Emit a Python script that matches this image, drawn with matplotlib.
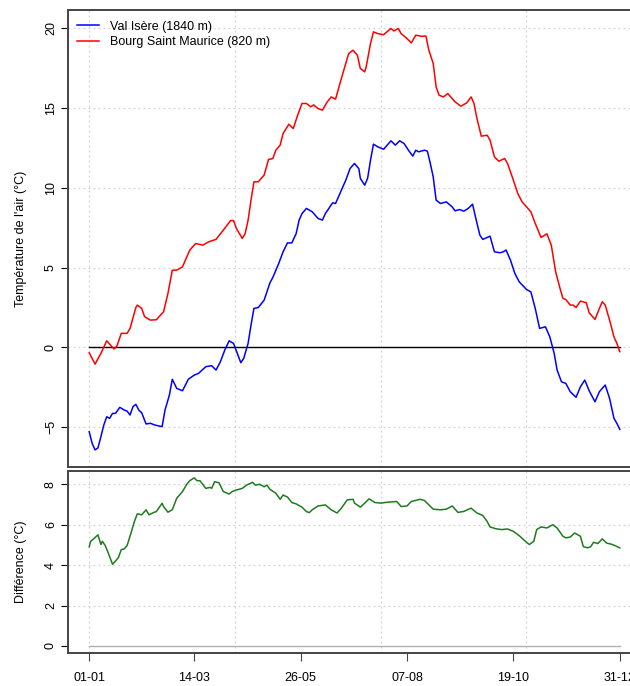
import datetime as dt
import matplotlib
matplotlib.use("Agg")
import matplotlib.pyplot as plt
import numpy as np

plt.rcParams['font.family'] = ['Liberation Sans', 'DejaVu Sans']

# Smoothed daily air temperature (day of year, 0 = 1 January)
val_days = [0, 2, 4, 6, 8, 10, 12, 14, 16, 18, 21, 24, 26, 28, 30, 32, 34, 36, 39, 42,
            45, 50, 52, 55, 57, 60, 64, 68, 72, 75, 80, 84, 87, 90, 93, 96, 99, 102, 104, 106,
            109, 111, 113, 116, 120, 124, 126, 130, 133, 136, 139, 142, 144, 146, 149, 153, 157, 160, 162, 167,
            169, 172, 176, 179, 182, 185, 186, 189, 191, 193, 195, 198, 202, 205, 207, 210, 213, 216, 219, 222,
            224, 226, 230, 232, 234, 236, 238, 241, 245, 249, 251, 254, 257, 260, 263, 265, 268, 270, 273, 275,
            278, 282, 284, 286, 289, 292, 295, 300, 303, 306, 309, 313, 316, 319, 321, 324, 327, 330, 334, 337,
            340, 343, 347, 350, 354, 357, 360, 362, 364]
val_temp = [-5.29, -6.02, -6.43, -6.3, -5.6, -4.87, -4.35, -4.45, -4.14, -4.14, -3.76, -3.93, -4.0, -4.24, -3.72, -3.57, -3.93, -4.1, -4.8, -4.76,
            -4.87, -4.97, -3.93, -2.99, -2.0, -2.57, -2.72, -2.0, -1.74, -1.63, -1.21, -1.15, -1.42, -0.9, -0.17, 0.41, 0.25, -0.48, -0.96, -0.69,
            0.25, 1.4, 2.44, 2.5, 2.96, 4.05, 4.39, 5.26, 5.99, 6.55, 6.55, 7.14, 7.98, 8.39, 8.71, 8.5, 8.08, 7.98, 8.39, 9.06,
            9.02, 9.65, 10.48, 11.22, 11.53, 11.2, 10.59, 10.17, 10.6, 11.74, 12.74, 12.57, 12.42, 12.74, 12.95, 12.68, 12.95, 12.78, 12.36, 11.99,
            12.36, 12.26, 12.36, 12.3, 11.53, 10.69, 9.23, 9.02, 9.12, 8.81, 8.56, 8.64, 8.54, 8.71, 8.98, 8.18, 7.04, 6.77, 6.89, 6.97,
            5.99, 5.93, 5.99, 6.1, 5.47, 4.64, 4.11, 3.63, 3.48, 2.44, 1.19, 1.29, 0.66, -0.38, -1.42, -2.16, -2.26, -2.78, -3.13, -2.47,
            -2.05, -2.72, -3.41, -2.78, -2.36, -3.2, -4.45, -4.76, -5.14]

bsm_days = [0, 4, 8, 12, 14, 17, 19, 22, 26, 28, 32, 33, 36, 38, 42, 46, 51, 54, 57, 60,
            64, 69, 73, 78, 82, 87, 92, 97, 99, 101, 105, 107, 109, 111, 113, 116, 120, 123, 126, 128,
            131, 133, 137, 140, 143, 146, 149, 152, 154, 157, 160, 163, 166, 169, 172, 176, 178, 181, 184, 186,
            189, 190, 193, 195, 198, 202, 205, 207, 209, 212, 214, 218, 221, 224, 228, 231, 233, 236, 238, 240,
            243, 246, 251, 255, 259, 262, 264, 266, 269, 273, 275, 278, 281, 285, 287, 291, 294, 297, 300, 303,
            306, 310, 314, 317, 320, 323, 325, 327, 330, 332, 334, 337, 341, 343, 347, 350, 352, 354, 357, 360,
            362, 364]
bsm_temp = [-0.34, -1.05, -0.38, 0.41, 0.2, -0.1, 0.08, 0.88, 0.88, 1.19, 2.5, 2.65, 2.44, 1.92, 1.71, 1.73, 2.23, 3.38, 4.84, 4.84,
            5.05, 6.1, 6.51, 6.41, 6.62, 6.77, 7.35, 7.95, 7.95, 7.45, 6.83, 7.14, 7.98, 9.23, 10.38, 10.38, 10.8, 11.78, 11.84, 12.36,
            12.68, 13.41, 13.99, 13.72, 14.56, 15.29, 15.29, 15.08, 15.2, 14.97, 14.87, 15.35, 15.7, 15.56, 16.54, 17.8, 18.42, 18.63, 18.31, 17.48,
            17.27, 17.58, 19.05, 19.78, 19.67, 19.6, 19.84, 19.99, 19.84, 19.99, 19.67, 19.36, 19.09, 19.57, 19.5, 19.52, 18.63, 17.8, 16.33, 15.81,
            15.7, 15.91, 15.39, 15.12, 15.33, 15.7, 15.29, 14.35, 13.24, 13.3, 12.99, 11.94, 11.67, 11.84, 11.53, 10.48, 9.65, 9.12, 8.81, 8.5,
            7.77, 6.89, 7.12, 6.41, 4.74, 3.7, 3.07, 3.0, 2.65, 2.65, 2.5, 2.9, 2.8, 2.17, 1.75, 2.44, 2.86, 2.65, 1.71, 0.66,
            0.25, -0.27]

# Bourg Saint Maurice minus Val Isère
diff_days = [0, 1, 3, 6, 8, 9, 11, 13, 16, 18, 20, 22, 24, 26, 29, 31, 33, 36, 39, 41,
             44, 46, 50, 51, 54, 57, 60, 64, 67, 69, 72, 74, 76, 80, 83, 84, 86, 89, 92, 96,
             98, 101, 105, 108, 112, 114, 117, 120, 122, 124, 128, 131, 133, 136, 139, 142, 146, 149, 151, 153,
             157, 162, 166, 170, 173, 177, 181, 182, 186, 189, 192, 196, 200, 204, 211, 214, 218, 221, 227, 230,
             236, 241, 245, 249, 253, 257, 262, 266, 270, 273, 275, 279, 283, 287, 291, 295, 300, 302, 305, 307,
             310, 314, 318, 321, 325, 327, 330, 333, 337, 339, 342, 344, 346, 349, 352, 355, 358, 361, 364]
diff_temp = [4.91, 5.18, 5.3, 5.5, 5.02, 5.18, 4.97, 4.61, 4.04, 4.2, 4.37, 4.77, 4.8, 4.97, 5.67, 6.16, 6.54, 6.49, 6.74, 6.49,
             6.6, 6.65, 7.06, 6.9, 6.62, 6.74, 7.31, 7.64, 8.01, 8.18, 8.32, 8.18, 8.18, 7.8, 7.85, 7.8, 8.13, 8.08, 7.64, 7.52,
             7.64, 7.72, 7.8, 7.96, 8.1, 7.96, 8.0, 7.88, 7.96, 7.75, 7.56, 7.26, 7.47, 7.37, 7.1, 7.03, 6.87, 6.65, 6.6, 6.74,
             6.93, 6.98, 6.74, 6.58, 6.82, 7.23, 7.26, 7.07, 6.87, 7.07, 7.28, 7.1, 7.07, 7.11, 7.15, 6.9, 6.93, 7.15, 7.26, 7.2,
             6.77, 6.74, 6.77, 6.93, 6.61, 6.66, 6.82, 6.58, 6.46, 6.16, 5.89, 5.8, 5.76, 5.79, 5.67, 5.46, 5.13, 5.02, 5.18, 5.76,
             5.89, 5.84, 6.0, 5.84, 5.43, 5.35, 5.39, 5.59, 5.43, 4.91, 4.86, 4.91, 5.13, 5.07, 5.3, 5.09, 5.04, 4.96, 4.85]

tick_labels = ["01-01", "14-03", "26-05", "07-08", "19-10", "31-12"]
series_names = ["Val Isère (1840 m)", "Bourg Saint Maurice (820 m)"]

year = 2015
tick_pos = [(dt.date(year, int(s[3:]), int(s[:2])) - dt.date(year, 1, 1)).days for s in tick_labels]
last_day = tick_pos[-1]

fs = 9
frame_col = "#444444"
grid_kw = dict(color="#d3d3d3", linestyle=(0, (1.5, 2.5)), linewidth=0.9, zorder=0)

fig = plt.figure(figsize=(6.30, 6.86), dpi=100)
ax1 = fig.add_axes([68 / 630, 1 - 467 / 686, 573 / 630, 457 / 686])
ax2 = fig.add_axes([68 / 630, 1 - 653 / 686, 573 / 630, 182 / 686])

pad = 0.04 * last_day
for ax in (ax1, ax2):
    ax.set_xlim(-pad, last_day + pad)
    for sp in ax.spines.values():
        sp.set_color(frame_col)
        sp.set_linewidth(1.4)
    for gx in range(0, last_day + 1, 100):
        ax.axvline(gx, **grid_kw)
    ax.tick_params(axis="y", direction="out", length=5, width=0.8, color="black",
                   labelsize=fs, pad=3, labelrotation=90)

# Temperatures
ax1.set_ylim(-7.5, 21.15)
ax1.set_yticks([-5, 0, 5, 10, 15, 20])
for gy in [-5, 0, 5, 10, 15, 20]:
    ax1.axhline(gy, **grid_kw)
ax1.plot([0, last_day], [0, 0], color="black", linewidth=1.0, zorder=2)
ax1.plot(val_days, val_temp, color="#0000FF", linewidth=1.1, label=series_names[0], zorder=3)
ax1.plot(bsm_days, bsm_temp, color="#FF0000", linewidth=1.1, label=series_names[1], zorder=3)
ax1.set_xticks([])
ax1.set_ylabel("Température de l'air (°C)", fontsize=fs)
ax1.yaxis.set_label_coords(-0.071, 0.5)
for lab in ax1.get_yticklabels():
    lab.set_va("center")
ax1.legend(loc="upper left", bbox_to_anchor=(0.005, 0.99), frameon=False,
           fontsize=fs, handlelength=1.75, handletextpad=0.9,
           labelspacing=0.25, borderpad=0.2, borderaxespad=0.3)

# Difference
ax2.set_ylim(-0.35, 8.66)
ax2.set_yticks([0, 2, 4, 6, 8])
for gy in [2, 4, 6, 8]:
    ax2.axhline(gy, **grid_kw)
ax2.plot([0, last_day], [0, 0], color="#b0b0b0", linewidth=1.0, zorder=1)
ax2.plot(diff_days, diff_temp, color="#1E7B1E", linewidth=1.1, zorder=3)
ax2.set_xticks(tick_pos)
ax2.set_xticklabels(tick_labels)
ax2.tick_params(axis="x", direction="out", length=6, width=0.8, color=frame_col,
                labelsize=fs, pad=8)
ax2.set_ylabel("Différence (°C)", fontsize=fs)
ax2.yaxis.set_label_coords(-0.071, 0.5)
for lab in ax2.get_yticklabels():
    lab.set_va("center")

fig.savefig("out.png", dpi=100)
